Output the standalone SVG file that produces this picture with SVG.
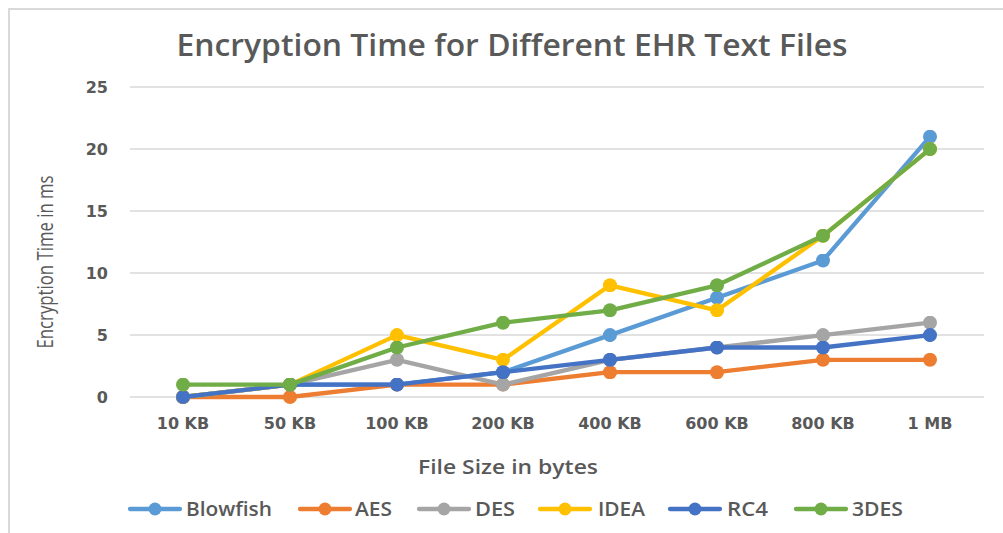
<svg xmlns="http://www.w3.org/2000/svg" width="1003" height="533" viewBox="0 0 1003 533">
  <style>
    .grid { stroke: #d9d9d9; stroke-width: 1.3; }
    .tick { font-family: "DejaVu Sans", sans-serif; font-weight: bold; font-size: 16px; fill: #595959; }
    .ytick { text-anchor: end; }
    .xtick { text-anchor: middle; }
    .title { font-family: "Open Sans", sans-serif; font-weight: 600; font-size: 30px; fill: #595959; }
    .axis-title { font-family: "Open Sans", sans-serif; font-size: 19px; fill: #595959; }
    .y-title { font-size: 22px; }
    .x-title { font-weight: 600; }
    .legend-text { font-family: "Open Sans", sans-serif; font-weight: 600; font-size: 19px; fill: #595959; }
    .series { fill: none; stroke-width: 4.3; stroke-linejoin: round; stroke-linecap: round; }
    .blowfish { stroke: #5b9bd5; }
    .aes { stroke: #ed7d31; }
    .des { stroke: #a5a5a5; }
    .idea { stroke: #ffc000; }
    .rc4 { stroke: #4472c4; }
    .tdes { stroke: #70ad47; }
  </style>
  <defs>
    <marker id="dot-blowfish" viewBox="0 0 14 14" refX="7" refY="7" markerWidth="14" markerHeight="14" markerUnits="userSpaceOnUse"><circle cx="7" cy="7" r="7" fill="#5b9bd5"/></marker>
    <marker id="dot-aes" viewBox="0 0 14 14" refX="7" refY="7" markerWidth="14" markerHeight="14" markerUnits="userSpaceOnUse"><circle cx="7" cy="7" r="7" fill="#ed7d31"/></marker>
    <marker id="dot-des" viewBox="0 0 14 14" refX="7" refY="7" markerWidth="14" markerHeight="14" markerUnits="userSpaceOnUse"><circle cx="7" cy="7" r="7" fill="#a5a5a5"/></marker>
    <marker id="dot-idea" viewBox="0 0 14 14" refX="7" refY="7" markerWidth="14" markerHeight="14" markerUnits="userSpaceOnUse"><circle cx="7" cy="7" r="7" fill="#ffc000"/></marker>
    <marker id="dot-rc4" viewBox="0 0 14 14" refX="7" refY="7" markerWidth="14" markerHeight="14" markerUnits="userSpaceOnUse"><circle cx="7" cy="7" r="7" fill="#4472c4"/></marker>
    <marker id="dot-tdes" viewBox="0 0 14 14" refX="7" refY="7" markerWidth="14" markerHeight="14" markerUnits="userSpaceOnUse"><circle cx="7" cy="7" r="7" fill="#70ad47"/></marker>
  </defs>

  <!-- background and chart frame -->
  <rect x="0" y="0" width="1003" height="533" fill="#ffffff"/>
  <path d="M9 533 V9 H1003" fill="none" stroke="#d9d9d9" stroke-width="2"/>

  <!-- title -->
  <text id="chart-title" class="title" x="512" y="56" text-anchor="middle" textLength="671" lengthAdjust="spacingAndGlyphs">Encryption Time for Different EHR Text Files</text>

  <!-- horizontal gridlines -->
  <g id="gridlines">
    <line class="grid" x1="130" y1="87" x2="984" y2="87"/>
    <line class="grid" x1="130" y1="149" x2="984" y2="149"/>
    <line class="grid" x1="130" y1="211" x2="984" y2="211"/>
    <line class="grid" x1="130" y1="273" x2="984" y2="273"/>
    <line class="grid" x1="130" y1="335" x2="984" y2="335"/>
    <line class="grid" x1="130" y1="397" x2="984" y2="397"/>
  </g>

  <!-- value axis -->
  <g id="y-axis">
    <text class="tick ytick" x="108" y="93">25</text>
    <text class="tick ytick" x="108" y="155">20</text>
    <text class="tick ytick" x="108" y="217">15</text>
    <text class="tick ytick" x="108" y="279">10</text>
    <text class="tick ytick" x="108" y="341">5</text>
    <text class="tick ytick" x="108" y="403">0</text>
    <text class="axis-title y-title" transform="translate(53 262) rotate(-90)" x="0" y="0" text-anchor="middle" textLength="173" lengthAdjust="spacingAndGlyphs">Encryption Time in ms</text>
  </g>

  <!-- category axis -->
  <g id="x-axis">
    <text class="tick xtick" x="183" y="429">10 KB</text>
    <text class="tick xtick" x="290" y="429">50 KB</text>
    <text class="tick xtick" x="397" y="429">100 KB</text>
    <text class="tick xtick" x="503" y="429">200 KB</text>
    <text class="tick xtick" x="610" y="429">400 KB</text>
    <text class="tick xtick" x="717" y="429">600 KB</text>
    <text class="tick xtick" x="823" y="429">800 KB</text>
    <text class="tick xtick" x="930" y="429">1 MB</text>
    <text class="axis-title x-title" x="508" y="474" text-anchor="middle" textLength="180" lengthAdjust="spacingAndGlyphs">File Size in bytes</text>
  </g>

  <!-- data series -->
  <g id="series">
    <polyline id="series-blowfish" class="series blowfish" marker-start="url(#dot-blowfish)" marker-mid="url(#dot-blowfish)" marker-end="url(#dot-blowfish)"
      points="183,397 290,384.6 397,384.6 503,372.2 610,335.1 717,297.7 823,260.5 930,136.7"/>
    <polyline id="series-aes" class="series aes" marker-start="url(#dot-aes)" marker-mid="url(#dot-aes)" marker-end="url(#dot-aes)"
      points="183,397 290,397 397,384.6 503,384.6 610,372.2 717,372.2 823,359.8 930,359.8"/>
    <polyline id="series-des" class="series des" marker-start="url(#dot-des)" marker-mid="url(#dot-des)" marker-end="url(#dot-des)"
      points="183,397 290,384.6 397,359.8 503,384.6 610,359.8 717,347.5 823,335.1 930,322.7"/>
    <polyline id="series-idea" class="series idea" marker-start="url(#dot-idea)" marker-mid="url(#dot-idea)" marker-end="url(#dot-idea)"
      points="183,397 290,384.6 397,335.1 503,359.8 610,285.3 717,310.3 823,235.8 930,149.1"/>
    <polyline id="series-rc4" class="series rc4" marker-start="url(#dot-rc4)" marker-mid="url(#dot-rc4)" marker-end="url(#dot-rc4)"
      points="183,397 290,384.6 397,384.6 503,372.2 610,359.8 717,347.5 823,347.5 930,335.1"/>
    <polyline id="series-3des" class="series tdes" marker-start="url(#dot-tdes)" marker-mid="url(#dot-tdes)" marker-end="url(#dot-tdes)"
      points="183,384.6 290,384.6 397,347.5 503,322.7 610,310.3 717,285.3 823,235.8 930,149.1"/>
  </g>

  <!-- legend -->
  <g id="legend">
    <g id="legend-blowfish">
      <line class="series blowfish" x1="130" y1="509" x2="180" y2="509" stroke-linecap="butt"/>
      <circle cx="155" cy="509" r="6.5" fill="#5b9bd5"/>
      <text class="legend-text" x="186" y="516" textLength="86" lengthAdjust="spacingAndGlyphs">Blowfish</text>
    </g>
    <g id="legend-aes">
      <line class="series aes" x1="300" y1="509" x2="350" y2="509" stroke-linecap="butt"/>
      <circle cx="325" cy="509" r="6.5" fill="#ed7d31"/>
      <text class="legend-text" x="355" y="516" textLength="37" lengthAdjust="spacingAndGlyphs">AES</text>
    </g>
    <g id="legend-des">
      <line class="series des" x1="419" y1="509" x2="469" y2="509" stroke-linecap="butt"/>
      <circle cx="444" cy="509" r="6.5" fill="#a5a5a5"/>
      <text class="legend-text" x="475" y="516" textLength="40" lengthAdjust="spacingAndGlyphs">DES</text>
    </g>
    <g id="legend-idea">
      <line class="series idea" x1="540" y1="509" x2="590" y2="509" stroke-linecap="butt"/>
      <circle cx="565" cy="509" r="6.5" fill="#ffc000"/>
      <text class="legend-text" x="598" y="516" textLength="47" lengthAdjust="spacingAndGlyphs">IDEA</text>
    </g>
    <g id="legend-rc4">
      <line class="series rc4" x1="670" y1="509" x2="720" y2="509" stroke-linecap="butt"/>
      <circle cx="695" cy="509" r="6.5" fill="#4472c4"/>
      <text class="legend-text" x="727" y="516" textLength="41" lengthAdjust="spacingAndGlyphs">RC4</text>
    </g>
    <g id="legend-3des">
      <line class="series tdes" x1="796" y1="509" x2="846" y2="509" stroke-linecap="butt"/>
      <circle cx="821" cy="509" r="6.5" fill="#70ad47"/>
      <text class="legend-text" x="852" y="516" textLength="51" lengthAdjust="spacingAndGlyphs">3DES</text>
    </g>
  </g>
</svg>
